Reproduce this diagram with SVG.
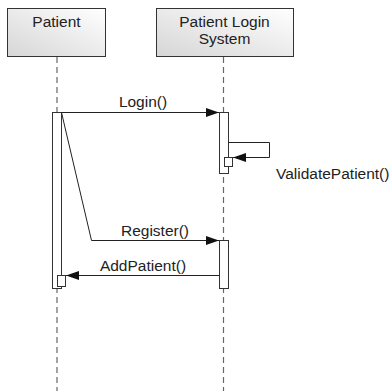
<svg xmlns="http://www.w3.org/2000/svg" width="391" height="391" viewBox="0 0 391 391">
<style>
.box{stroke:#333;stroke-width:1;fill:url(#g)}
.life{stroke:#666;stroke-width:1.2;stroke-dasharray:6,4;fill:none}
.act{fill:#fff;stroke:#333;stroke-width:1}
.msg{stroke:#222;stroke-width:1;fill:none}
text{font-family:"Liberation Sans",Arial,sans-serif;font-size:15.5px;fill:#222}
</style>
<defs>
<linearGradient id="g" x1="1" y1="0" x2="0" y2="1">
<stop offset="0" stop-color="#ffffff"/>
<stop offset="1" stop-color="#d6d6d6"/>
</linearGradient>
<marker id="arr" markerWidth="13" markerHeight="9" refX="13" refY="4.5" orient="auto" markerUnits="userSpaceOnUse">
<path d="M0,0 L13,4.5 L0,9 Z" fill="#111"/>
</marker>
</defs>
<g id="patient">
<rect class="box" x="7.5" y="8.5" width="98" height="48"/>
<text x="56.5" y="27" text-anchor="middle">Patient</text>
<line class="life" x1="57" y1="57" x2="57" y2="391"/>
<rect class="act" x="52.5" y="112.5" width="9" height="176"/>
<rect class="act" x="57.5" y="275.5" width="8" height="11"/>
</g>
<g id="system">
<rect class="box" x="156.5" y="8.5" width="137" height="48"/>
<text x="224.5" y="27" text-anchor="middle">Patient Login</text>
<text x="224.5" y="44" text-anchor="middle">System</text>
<line class="life" x1="223.5" y1="57" x2="223.5" y2="391"/>
<rect class="act" x="219.5" y="112.5" width="9" height="61"/>
<rect class="act" x="224.5" y="157.5" width="8" height="9"/>
<rect class="act" x="219.5" y="240.5" width="9" height="48"/>
</g>
<g id="connectors">
<line class="msg" x1="61.5" y1="112.5" x2="219" y2="112.5" marker-end="url(#arr)"/>
<text x="143" y="107" text-anchor="middle">Login()</text>
<polyline class="msg" points="228.5,142.5 269.5,142.5 269.5,157.5 233,157.5" marker-end="url(#arr)"/>
<text x="276" y="179">ValidatePatient()</text>
<polyline class="msg" points="61.5,112.5 91.5,240.5 219,240.5" marker-end="url(#arr)"/>
<text x="155" y="236" text-anchor="middle">Register()</text>
<line class="msg" x1="219.5" y1="275.5" x2="66" y2="275.5" marker-end="url(#arr)"/>
<text x="143" y="271" text-anchor="middle">AddPatient()</text>
</g>
</svg>
